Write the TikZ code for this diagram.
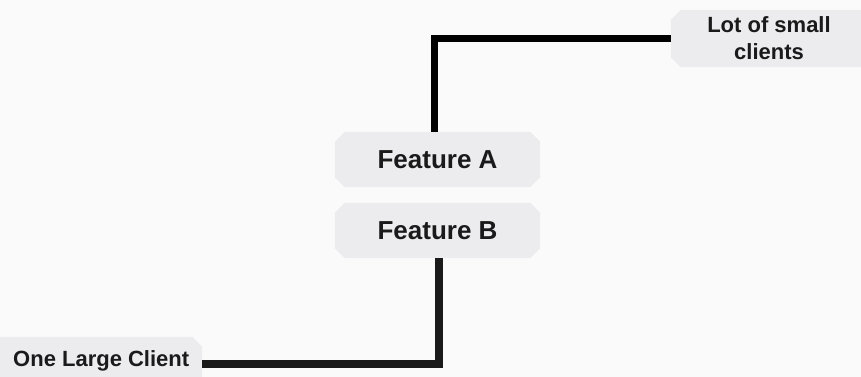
\documentclass[tikz,border=0pt]{standalone}
\usepackage{fontspec}
\setmainfont{Liberation Sans}
\usetikzlibrary{calc}
\definecolor{bgc}{HTML}{FAFAFA}
\definecolor{boxc}{HTML}{ECECEE}
\definecolor{txtc}{HTML}{1A1A1A}
\pgfdeclarelayer{background}
\pgfsetlayers{background,main}
\newcommand{\chbox}[1]{%
  \begin{pgfonlayer}{background}
  \fill[boxc] ($(#1.north west)+(10,0)$) -- ($(#1.north east)+(-10,0)$) -- ($(#1.north east)+(0,10)$)
    -- ($(#1.south east)+(0,-10)$) -- ($(#1.south east)+(-10,0)$) -- ($(#1.south west)+(10,0)$)
    -- ($(#1.south west)+(0,-10)$) -- ($(#1.north west)+(0,10)$) -- cycle;
  \end{pgfonlayer}}
\tikzset{
  pbox/.style={rectangle, draw=none, inner sep=0pt, text=txtc},
  link/.style={line width=7.5pt, line cap=butt, line join=miter}
}
\begin{document}
\begin{tikzpicture}[x=1pt,y=-1pt]
\begin{pgfonlayer}{background}
\fill[bgc] (0,0) rectangle (861,377);
\end{pgfonlayer}
\useasboundingbox (0,0) rectangle (861,377);
% boxes
\node[pbox, minimum width=205pt, minimum height=55pt, font=\bfseries\fontsize{26}{30}\selectfont] (A) at (437.5,159.5) {Feature A};
\node[pbox, minimum width=205pt, minimum height=55pt, font=\bfseries\fontsize{26}{30}\selectfont] (B) at (437.5,230.5) {Feature B};
\node[pbox, minimum width=210pt, minimum height=57pt] (L) at (776,38.5) {};
\node[text=txtc, font=\bfseries\fontsize{22}{27}\selectfont, align=center, inner sep=0pt] (Lt) at (769,38.5) {Lot of small\\clients};
\node[pbox, minimum width=232pt, minimum height=54pt] (C) at (86,364) {};
\node[text=txtc, font=\bfseries\fontsize{22}{27}\selectfont, anchor=west, inner sep=0pt] (Ct) at (13,361) {One Large Client};
\chbox{A}\chbox{B}\chbox{L}\chbox{C}
% connectors
\draw[link, black] ([xshift=-3pt]A.north) |- (L.west);
\draw[link, txtc] ([xshift=1.5pt]B.south) |- (C.east);
\end{tikzpicture}
\end{document}
